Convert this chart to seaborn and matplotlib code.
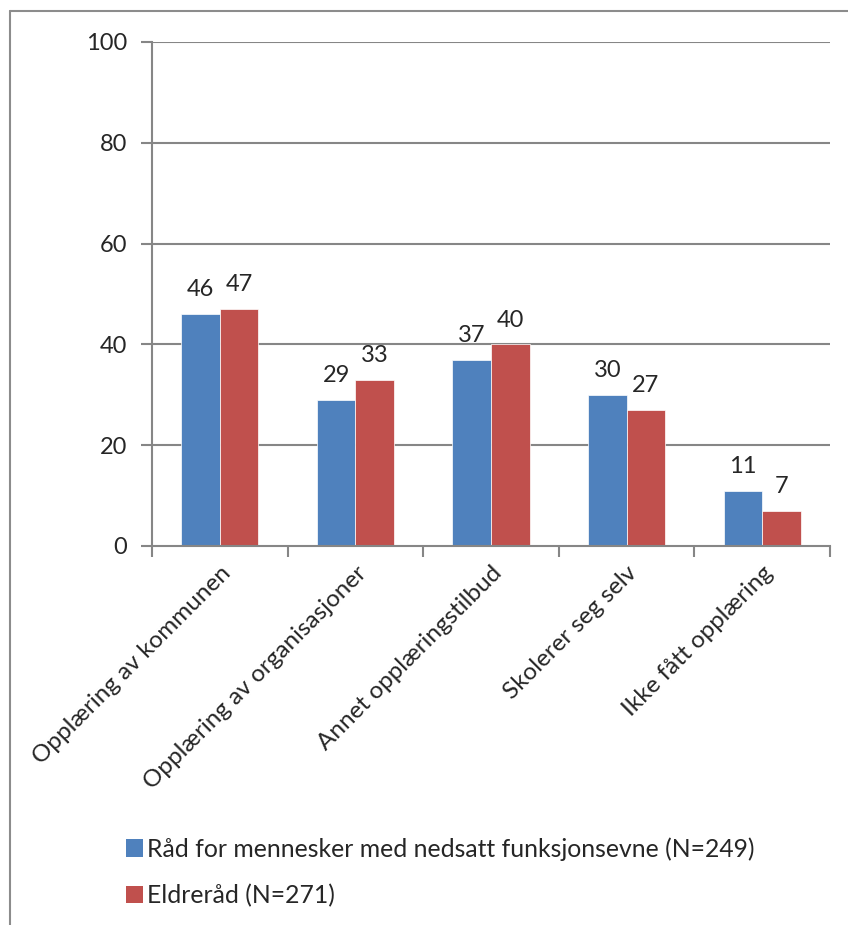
import matplotlib
matplotlib.use("Agg")
import matplotlib.pyplot as plt
import seaborn as sns
import pandas as pd
import numpy as np
from matplotlib.patches import Patch
from matplotlib.lines import Line2D

categories = ["Opplæring av kommunen", "Opplæring av organisasjoner",
              "Annet opplæringstilbud", "Skolerer seg selv", "Ikke fått opplæring"]
series_names = ["Råd for mennesker med nedsatt funksjonsevne (N=249)", "Eldreråd (N=271)"]
values_raad = [46, 29, 37, 30, 11]
values_eldre = [47, 33, 40, 27, 7]
yticks = [0, 20, 40, 60, 80, 100]
colors = ["#4F81BD", "#C0504D"]

df = pd.DataFrame({
    "cat": categories * 2,
    "series": [series_names[0]] * 5 + [series_names[1]] * 5,
    "val": values_raad + values_eldre,
})

sns.set_style("white")
plt.rcParams["font.family"] = ["Lato", "DejaVu Sans"]

fig = plt.figure(figsize=(8.48, 9.25), dpi=100)
ax = fig.add_axes([152/848, 379/925, 678/848, 504/925])

sns.barplot(data=df, x="cat", y="val", hue="series", order=categories,
            hue_order=series_names, palette=colors, width=0.57, ax=ax,
            legend=False, saturation=1, edgecolor="white", linewidth=0.5)

grid_c = "#868686"
ax.set_ylim(0, 100)
ax.set_xlim(-0.5, 4.5)
ax.set_yticks(yticks)
ax.set_yticklabels([str(v) for v in yticks], fontsize=17)
for v in yticks[1:]:
    ax.axhline(v, color=grid_c, lw=1.5, zorder=0)
ax.set_axisbelow(True)
for s in ["top", "right"]:
    ax.spines[s].set_visible(False)
for s in ["left", "bottom"]:
    ax.spines[s].set_color(grid_c)
    ax.spines[s].set_linewidth(1.5)
ax.tick_params(axis="y", length=8, width=1.5, color=grid_c, pad=10, left=True)
ax.set_xticks(range(5))
ax.set_xticklabels(categories, rotation=45, ha="right", rotation_mode="anchor", fontsize=17.5)
ax.tick_params(axis="x", which="major", length=0, pad=12)
ax.set_xticks(np.arange(-0.5, 5, 1), minor=True)
ax.tick_params(axis="x", which="minor", length=8, width=1.5, color=grid_c, bottom=True)
ax.set_xlabel("")
ax.set_ylabel("")

for cont in ax.containers:
    ax.bar_label(cont, labels=[f"{int(v)}" for v in cont.datavalues], padding=10, fontsize=17)

handles = [Patch(facecolor=c, edgecolor="none") for c in colors]
fig.legend(handles, series_names, loc="upper left", bbox_to_anchor=(126/848, 1 - 837/925),
           frameon=False, fontsize=17.8, handlelength=0.7, handleheight=0.7,
           handletextpad=0.15, labelspacing=0.95, borderaxespad=0, borderpad=0)

# outer frame (partially visible)
fig.add_artist(Line2D([10/848, 10/848], [0, 1 - 11/925], transform=fig.transFigure, color="#8c8c8c", lw=1.5))
fig.add_artist(Line2D([10/848, 1], [1 - 11/925, 1 - 11/925], transform=fig.transFigure, color="#8c8c8c", lw=1.5))

fig.savefig("out.png", dpi=100)
